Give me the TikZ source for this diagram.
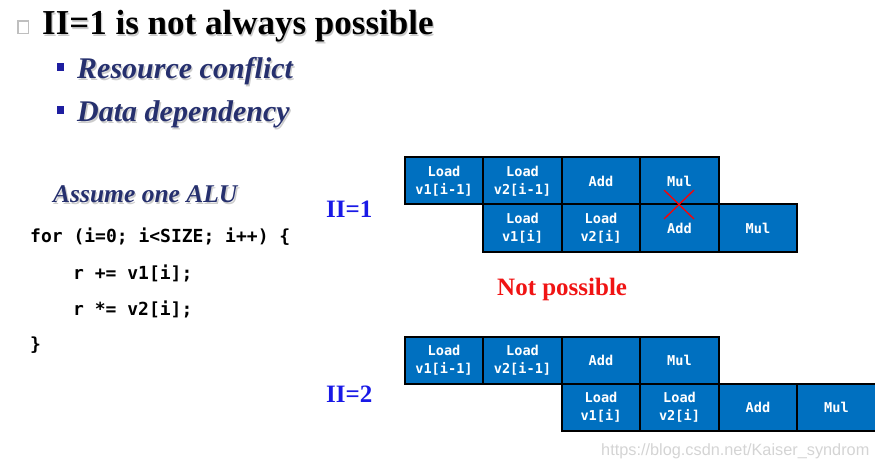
\documentclass[tikz,border=0pt]{standalone}
\usepackage{fontspec}
\setmainfont{Liberation Serif}
\newfontfamily\codefont{DejaVu Sans Mono}
\newfontfamily\wmfont{Liberation Sans}
\definecolor{cellblue}{HTML}{0070C0}
\definecolor{navytext}{RGB}{38,48,110}
\definecolor{labelblue}{RGB}{25,25,230}
\definecolor{bulletblue}{RGB}{30,30,160}
\definecolor{redtext}{RGB}{240,20,20}
\definecolor{wmgray}{RGB}{212,212,212}
\begin{document}
\begin{tikzpicture}[x=1pt,y=-1pt,
  cell/.style={draw=black, line width=2pt, fill=cellblue, minimum width=78.5pt, minimum height=47pt,
    inner sep=0pt, text=white, align=center, font=\codefont\bfseries\fontsize{13.6}{18}\selectfont},
  txt/.style={anchor=base west, inner sep=0pt},
  shadowtxt/.style={txt, text=black!20},
  titlefont/.style={font=\bfseries\fontsize{35}{40}\selectfont},
  subfont/.style={font=\bfseries\itshape\fontsize{30}{34}\selectfont},
  alufont/.style={font=\bfseries\itshape\fontsize{25.5}{28}\selectfont},
  codestyle/.style={txt, font=\codefont\bfseries\fontsize{18}{22}\selectfont},
  iifont/.style={font=\bfseries\fontsize{25}{28}\selectfont}]
\useasboundingbox (0,0) rectangle (875,465);
% title
\draw[black!25, line width=1.4pt] (18,21) rectangle (28.5,33.5);
\node[shadowtxt, titlefont] (titleS) at (43.2,36.2) {II=1 is not always possible};
\node[txt, titlefont] (title) at (42,35) {II=1 is not always possible};
% sub bullets
\fill[bulletblue] (57,63) rectangle (63.5,71);
\node[shadowtxt, subfont] (rcS) at (78.3,80.3) {Resource conflict};
\node[txt, subfont, text=navytext] (rc) at (77,79) {Resource conflict};
\fill[bulletblue] (57,106) rectangle (63.5,114);
\node[shadowtxt, subfont] (ddS) at (78.3,123.3) {Data dependency};
\node[txt, subfont, text=navytext] (dd) at (77,122) {Data dependency};
% assume
\node[shadowtxt, alufont] (aluS) at (54.3,204.3) {Assume one ALU};
\node[txt, alufont, text=navytext] (alu) at (53,203) {Assume one ALU};
% code
\node[codestyle] (c1) at (30,242) {for (i=0; i<SIZE; i++) \{};
\node[codestyle] (c2) at (73,279) {r += v1[i];};
\node[codestyle] (c3) at (73,315) {r *= v2[i];};
\node[codestyle] (c4) at (30,350) {\}};
% labels
\node[txt, iifont, text=labelblue] (ii1) at (326,218) {II=1};
\node[txt, iifont, text=labelblue] (ii2) at (326,402) {II=2};
\node[txt, text=redtext, font=\bfseries\fontsize{25}{28}\selectfont] (np) at (497,295) {Not possible};
% II=1 table
\node[cell] (a11) at (444,181) {Load\\v1[i-1]};
\node[cell] (a12) at (522.5,181) {Load\\v2[i-1]};
\node[cell] (a13) at (601,181) {Add};
\node[cell] (a14) at (679.5,181) {Mul};
\node[cell] (a22) at (522.5,228) {Load\\v1[i]};
\node[cell] (a23) at (601,228) {Load\\v2[i]};
\node[cell] (a24) at (679.5,228) {Add};
\node[cell] (a25) at (758,228) {Mul};
\draw[red, line width=1.3pt] (664,190) -- (694,219) (694,190) -- (664,219);
% II=2 table
\node[cell] (b11) at (444,360) {Load\\v1[i-1]};
\node[cell] (b12) at (522.5,360) {Load\\v2[i-1]};
\node[cell] (b13) at (601,360) {Add};
\node[cell] (b14) at (679.5,360) {Mul};
\node[cell] (b23) at (601,407) {Load\\v1[i]};
\node[cell] (b24) at (679.5,407) {Load\\v2[i]};
\node[cell] (b25) at (758,407) {Add};
\node[cell] (b26) at (836.5,407) {Mul};
% watermark
\node[txt, text=wmgray, font=\wmfont\fontsize{16.3}{18}\selectfont] (wm) at (601,455) {https://blog.csdn.net/Kaiser\_syndrom};
\end{tikzpicture}
\end{document}
